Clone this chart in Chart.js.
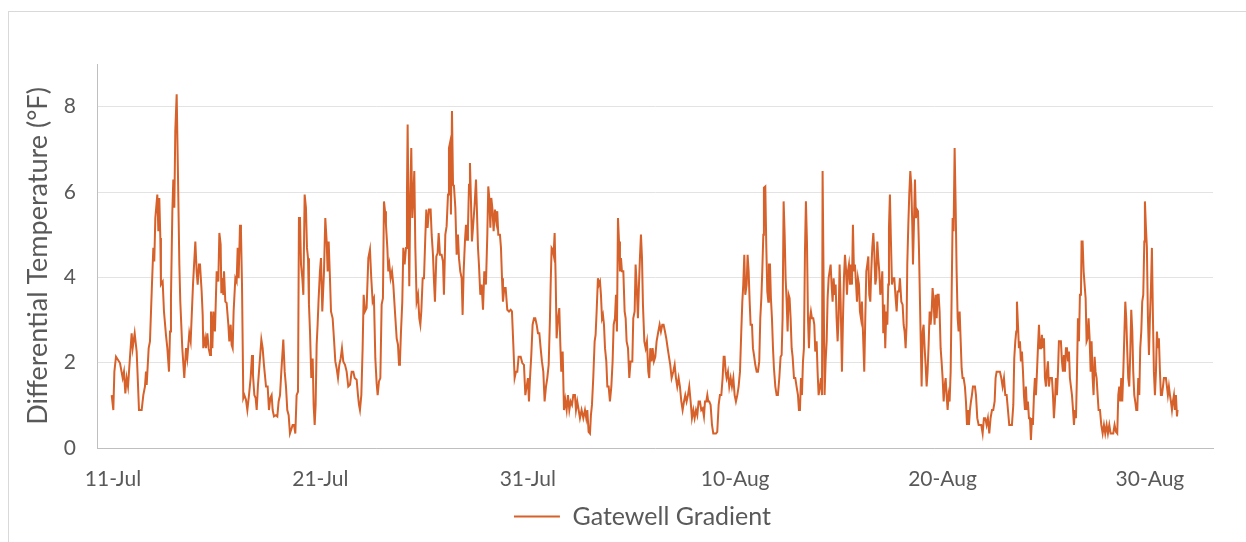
<!DOCTYPE html>
<html>
<head>
<meta charset="utf-8">
<title>Gatewell Gradient</title>
<script src="https://cdn.jsdelivr.net/npm/chart.js@4.4.1/dist/chart.umd.min.js"></script>
<style>
    html, body { margin: 0; padding: 0; background: #fff; overflow: hidden; }
    #frame { position: absolute; left: 8px; top: 11px; width: 1400px; height: 700px; border: 1px solid #d9d9d9; }
    #gradientChart { position: absolute; left: 0; top: 0; }
</style>
</head>
<body>
<div id="frame"></div>
<canvas id="gradientChart" width="1246" height="542"></canvas>
<script>
// hours since 11-Jul 00:00
var hours = [
    -1.5, 0.4, 1.6, 3.5, 8.1, 11.2, 12.7, 14.3, 15.8, 17.4, 19.7, 21.6, 22.8, 25.1, 27.4, 28.5, 30.1, 33.2, 35.1, 37.0,
    38.2, 39.0, 41.3, 42.8, 45.1, 46.7, 47.8, 49.0, 51.3, 52.5, 53.6, 54.8, 55.5, 57.5, 59.0, 61.3, 62.9, 64.8, 66.0, 67.1,
    68.7, 69.8, 71.0, 72.1, 73.7, 75.2, 76.8, 77.9, 80.2, 82.5, 84.5, 86.0, 88.3, 89.9, 92.6, 95.3, 96.8, 98.0, 99.5,
    100.7, 102.6, 103.8, 104.5, 106.5, 107.6, 109.2, 110.7, 112.3, 113.4, 115.0, 116.1, 118.0, 119.2, 120.0, 121.9, 123.1, 124.6, 125.4, 126.5,
    127.7, 128.5, 130.0, 131.5, 133.5, 134.6, 136.2, 137.3, 138.5, 139.6, 141.6, 143.1, 144.3, 145.4, 147.0, 148.1, 149.3, 150.8, 152.0, 153.9,
    155.5, 157.4, 159.3, 160.9, 162.0, 163.6, 165.1, 166.3, 167.8, 170.1, 171.7, 173.2, 174.7, 177.1, 179.0, 180.5, 182.1, 183.6, 184.8, 186.3,
    188.6, 190.2, 191.7, 193.3, 194.8, 197.1, 198.7, 200.2, 201.7, 203.3, 204.8, 207.9, 209.5, 211.0, 212.5, 214.1, 215.2,
    216.4, 217.6, 219.1, 220.3, 221.8, 223.3, 224.5, 225.7, 226.8, 228.0, 229.5, 231.1, 232.2, 233.4, 234.5, 235.7, 236.8, 238.0, 239.5, 240.7,
    242.2, 244.2, 245.7, 247.3, 248.4, 249.6, 251.1, 252.3, 254.2, 255.7, 257.3, 258.8, 260.4, 261.9, 263.5, 265.0, 266.5, 268.5, 270.4, 272.3,
    274.3, 276.2, 278.1, 279.7, 282.0, 283.5, 284.7, 285.8, 287.4, 288.9, 290.1, 291.6, 293.5, 295.5, 297.4, 298.9, 300.5, 302.0, 303.6, 305.1,
    306.3, 307.8, 309.4, 310.9, 312.4, 313.6, 314.8, 315.9, 317.5, 318.6, 319.8, 321.3, 322.9, 324.4, 326.3, 328.3, 329.8, 331.0,
    332.1, 333.3, 334.8, 336.0, 337.5, 339.1, 340.2, 341.0, 342.2, 342.9, 344.1, 345.2, 346.4, 347.6, 348.7, 349.9, 351.4, 353.0, 354.5, 355.7,
    356.8, 358.4, 359.9, 361.4, 362.6, 364.1, 365.7, 367.6, 368.8, 370.3, 371.5, 372.6, 374.2, 375.7, 376.9, 378.4, 380.3, 381.9, 383.0, 384.6,
    386.1, 387.7, 388.8, 390.4, 391.1, 392.3, 393.5, 394.6, 396.2, 397.7, 399.2, 400.4, 401.9, 403.5, 404.6, 405.8, 407.3, 408.5, 409.7, 410.8,
    412.0, 413.1, 414.3, 415.4, 416.6, 418.5, 420.1, 421.2, 422.4, 423.5, 425.1, 426.6, 428.2, 429.7, 431.6, 433.2, 434.3, 435.5, 436.7, 437.8,
    439.0, 440.5, 442.0, 443.6, 444.7, 445.9,
    447.8, 449.0, 450.2, 451.3, 452.9, 454.4, 456.3, 458.3, 460.2, 461.7, 463.3, 464.8, 466.4, 467.9, 469.4, 471.8, 473.7, 475.6, 477.2, 478.7,
    480.2, 481.4, 482.6, 484.1, 485.6, 487.2, 488.7, 490.3, 491.8, 493.4, 494.9, 496.4, 498.0, 499.5, 501.1, 502.6, 504.2, 505.7, 506.5, 507.6,
    508.8, 509.9, 511.1, 512.3, 513.4, 515.0, 516.5, 517.7, 518.8, 520.4, 521.9, 523.4, 525.0, 526.5, 528.1, 529.6, 531.2, 532.7, 534.6, 535.8,
    537.3, 538.9, 540.4, 542.3, 544.3, 546.2, 547.7, 548.9, 550.4, 552.0, 553.1, 554.3, 555.8, 557.4, 558.5, 559.7, 561.2, 562.4,
    563.6, 564.7, 565.9, 567.0, 568.2, 569.4, 570.9, 572.1, 573.6, 575.1, 576.7, 578.2, 579.4, 580.9, 582.1, 583.2, 584.4, 585.6, 586.7, 587.9,
    589.0, 590.6, 592.1, 593.3, 594.4, 596.0, 597.5, 599.0, 601.0, 602.1, 603.7, 604.8, 606.0, 607.5, 608.7, 609.8, 611.0, 612.2, 613.3, 614.9,
    616.4, 617.9, 619.5, 620.6, 621.8, 623.3, 624.5, 626.0, 627.6, 629.1, 631.1, 632.6, 634.1, 635.7, 637.2, 638.8, 640.3, 641.9, 643.4, 644.9,
    646.5, 648.4, 650.0, 651.5, 653.0, 654.6, 656.1, 657.7, 659.2, 660.8, 662.3, 663.8, 665.4, 666.9, 668.5, 670.0, 671.6, 673.1, 674.7, 676.2, 677.7,
    679.3, 680.8, 682.4, 683.9, 685.1, 686.6, 687.8, 688.9, 690.1, 691.6, 693.2, 694.7, 696.3, 697.8, 699.3, 700.9, 702.4, 704.0, 705.5, 706.7,
    707.8, 709.0, 710.1, 711.7, 713.2, 714.8, 716.3, 717.9, 719.4, 720.9, 722.5, 724.0, 725.6, 727.1, 728.3, 729.4, 730.6, 731.7, 733.3, 734.4,
    735.6, 736.8, 737.9, 739.5, 740.6, 741.8, 743.3, 744.9, 746.4, 747.9, 749.1, 750.3, 751.4, 752.6, 753.3, 754.9, 756.0, 757.2, 758.4, 759.1,
    760.3, 761.4, 762.6, 763.8, 764.9, 766.5, 768.0, 769.5, 771.1, 772.6, 773.8, 774.9, 776.1, 777.3, 778.4, 779.6, 780.7, 781.9, 783.0, 784.2,
    785.4, 786.5, 788.1, 789.6, 791.1, 792.7, 793.8,
    795.0, 796.2, 797.3, 798.5, 799.6, 800.8, 801.9, 803.1, 804.3, 805.4, 806.6, 807.7, 808.9, 810.4, 811.6, 812.7, 814.3, 815.4, 816.6, 818.1,
    819.3, 820.5, 821.2, 822.4, 823.5, 824.7, 825.9, 827.0, 828.2, 829.3, 830.5, 831.6, 832.8, 834.0, 835.1, 836.3, 837.4, 838.6, 839.7, 840.9,
    842.1, 843.6, 844.8, 845.9, 847.1, 848.2, 849.4, 850.5, 851.7, 852.9, 854.0, 855.2, 856.3, 857.5, 858.6, 859.8, 861.0, 862.1, 863.3, 864.4,
    865.6, 866.7, 867.9, 869.4, 870.6, 871.8, 872.9, 874.1, 875.2, 876.4, 877.5, 878.7, 879.9, 881.0, 882.2, 883.3, 884.5, 885.6, 886.8, 888.0,
    889.1, 890.3, 891.4, 892.6, 893.7, 894.9, 896.1, 897.2, 898.0, 899.1, 900.3, 901.5, 902.6, 904.2, 905.7, 906.9, 908.0, 909.6,
    910.7, 912.3, 913.8, 915.0, 916.1, 917.3, 918.4, 919.2, 920.4, 921.5, 922.7, 923.8, 925.0, 925.8, 926.9, 928.1, 929.2, 930.4, 931.6, 932.7,
    933.9, 935.0, 935.8, 937.0, 938.1, 939.3, 940.4, 941.6, 942.7, 943.9, 945.1, 946.2, 947.4, 948.5, 949.7, 950.8, 952.0, 953.2, 954.3, 955.5,
    956.6, 957.8, 958.9, 960.1, 961.3, 962.4, 963.6, 964.7, 965.9, 967.0, 968.2, 969.4, 970.5, 971.7, 972.8, 974.0, 975.1, 976.3, 977.5, 978.6,
    979.8, 980.9, 982.1, 983.2, 984.4, 985.9, 987.1, 988.3, 989.4, 990.6, 991.7, 992.9, 994.0, 995.2, 996.4, 997.5, 998.7, 1000.2, 1001.8, 1003.3,
    1004.8, 1006.4, 1007.9, 1009.5, 1011.0, 1012.5, 1014.1, 1015.6, 1017.2, 1018.7, 1020.3, 1021.4, 1022.6, 1024.5,
    1026.4, 1028.0, 1029.5, 1031.1, 1032.6, 1034.2, 1035.7, 1037.2, 1038.8, 1040.3, 1041.9, 1043.0, 1044.2, 1045.3, 1046.1, 1047.3, 1048.4, 1049.6, 1050.7, 1051.9,
    1053.1, 1054.2, 1055.4, 1056.5, 1057.7, 1058.8, 1060.0, 1061.2, 1062.3, 1063.5, 1064.6, 1065.8, 1066.9, 1068.1, 1069.3, 1070.4, 1071.6, 1072.7, 1073.9, 1075.0,
    1076.2, 1077.4, 1078.5, 1079.7, 1080.8, 1082.0, 1083.1, 1084.3, 1085.5, 1086.6, 1087.8, 1088.9, 1090.1, 1091.2, 1092.4, 1093.6, 1094.7, 1095.9, 1097.0, 1098.2,
    1099.3, 1100.5, 1101.7, 1102.8, 1104.0, 1105.1, 1106.3, 1107.4, 1108.6, 1109.8, 1110.9, 1112.1, 1113.2, 1114.4, 1115.5, 1116.7, 1117.9, 1119.0, 1120.2, 1120.9,
    1122.1, 1123.3, 1124.4, 1125.6, 1126.7, 1127.9, 1129.0, 1130.2, 1131.4, 1132.5, 1133.7, 1134.8, 1136.0, 1137.1, 1138.3, 1139.5, 1140.6,
    1142.2, 1143.7, 1145.3, 1146.8, 1148.3, 1149.9, 1151.4, 1153.0, 1154.5, 1156.1, 1157.6, 1159.1, 1160.7, 1162.2, 1163.4, 1164.5, 1165.7, 1166.8, 1168.0, 1169.2,
    1170.3, 1171.5, 1172.6, 1173.8, 1174.9, 1176.1, 1177.3, 1178.4, 1179.6, 1180.7, 1181.9, 1183.0, 1184.2, 1185.4, 1186.5, 1187.7, 1188.8, 1190.0, 1191.1, 1192.3,
    1193.5, 1194.2, 1195.4, 1196.5, 1197.7, 1198.9, 1200.0, 1201.2, 1202.3, 1203.5, 1204.6, 1205.8, 1207.0, 1208.1, 1209.3, 1210.4, 1211.6, 1212.7, 1213.9, 1215.1,
    1216.2, 1217.4, 1218.5, 1219.7, 1220.8, 1222.0, 1223.2, 1224.3, 1225.5, 1226.6, 1227.8, 1228.9, 1230.1, 1231.3, 1232.0
];

// Gatewell gradient, deg F
var gradient = [
    1.24, 0.89, 1.79, 2.14, 1.99, 1.64, 1.79, 1.28, 1.64, 1.44, 2.14, 2.69, 2.34, 2.69, 2.26, 1.71, 0.89, 0.89, 1.24, 1.44,
    1.79, 1.48, 2.34, 2.50, 3.83, 4.69, 4.37, 5.39, 5.94, 5.08, 5.86, 4.92, 3.83, 3.90, 3.20, 2.65, 2.34, 1.79, 2.73, 3.51,
    5.55, 6.29, 5.63, 7.43, 8.29, 6.41, 4.30, 3.43, 2.34, 1.64, 2.34, 2.10, 2.69, 2.50, 3.83, 4.84, 4.14, 3.83, 4.30,
    4.30, 3.67, 3.12, 2.34, 2.57, 2.34, 2.69, 2.34, 2.18, 3.20, 2.34, 3.20, 2.73, 3.59, 4.14, 3.90, 5.04, 4.77, 3.63, 3.98,
    3.59, 4.14, 3.43, 3.40, 2.89, 2.50, 2.89, 2.42, 2.34, 3.20, 3.98, 3.90, 4.69, 3.98, 5.23, 5.08, 3.83, 1.17, 1.24, 1.13,
    0.89, 1.24, 1.64, 2.18, 1.71, 1.24, 1.17, 0.89, 1.48, 2.10, 2.54, 2.34, 1.95, 1.44, 1.44, 0.89, 1.17, 1.24, 0.89, 0.74,
    0.77, 0.74, 1.09, 1.24, 1.79, 2.54, 1.79, 1.44, 0.89, 0.77, 0.34, 0.54, 0.54, 0.34, 1.24, 1.32, 5.39,
    5.39, 4.30, 3.98, 3.59, 5.94, 5.63, 4.69, 4.45, 3.36, 2.73, 1.64, 2.10, 1.01, 0.54, 1.01, 2.42, 2.89, 3.51, 4.14, 4.45,
    3.20, 4.14, 5.39, 4.84, 4.14, 4.84, 3.98, 3.20, 3.04, 2.57, 2.03, 1.87, 1.64, 1.95, 2.10, 2.34, 2.03, 1.95, 1.79, 1.44,
    1.48, 1.79, 1.79, 1.64, 1.60, 1.24, 1.01, 0.89, 1.24, 2.34, 3.59, 3.20, 3.28, 4.45, 4.65, 3.98, 3.43, 3.51, 2.10, 1.52,
    1.24, 1.56, 1.64, 3.36, 3.51, 5.78, 5.55, 5.23, 4.69, 4.14, 4.30, 3.98, 4.14, 3.83, 3.20, 2.57, 2.42, 1.95,
    2.03, 2.73, 3.43, 4.69, 4.30, 4.69, 5.94, 7.58, 5.00, 3.79, 5.94, 7.03, 5.39, 5.94, 6.49, 4.69, 3.43, 3.59, 3.04, 2.89,
    3.20, 3.98, 3.98, 4.92, 5.59, 5.16, 5.59, 5.59, 5.00, 4.53, 3.90, 3.43, 4.49, 4.57, 5.04, 4.53, 4.53, 4.37, 3.59, 5.00,
    5.20, 5.94, 7.03, 7.19, 5.47, 7.90, 6.17, 6.13, 5.63, 4.53, 5.00, 4.45, 4.14, 3.98, 3.12, 4.14, 4.84, 5.23, 4.88, 5.16,
    6.17, 6.68, 5.78, 4.84, 5.16, 5.70, 6.29, 5.55, 4.69, 4.30, 3.59, 3.83, 3.24, 4.14, 3.83, 5.00, 6.13, 5.86, 5.16, 5.86,
    5.63, 5.08, 5.59, 5.31, 5.55, 5.00,
    5.00, 4.69, 3.98, 3.43, 3.75, 3.75, 3.24, 3.20, 3.24, 3.20, 2.42, 1.64, 1.79, 1.79, 2.14, 2.14, 1.99, 1.95, 1.24, 1.44,
    1.64, 1.09, 1.64, 2.18, 2.89, 3.04, 3.04, 2.89, 2.69, 2.69, 2.34, 2.03, 1.79, 1.09, 1.44, 1.64, 1.95, 3.04, 3.83, 4.69,
    4.65, 4.53, 5.04, 3.98, 2.57, 3.04, 3.28, 2.42, 1.79, 2.26, 0.89, 1.13, 0.89, 1.24, 0.89, 1.09, 1.01, 1.24, 1.24, 0.89,
    1.09, 0.89, 0.70, 0.89, 0.70, 0.89, 0.70, 0.89, 0.38, 0.34, 0.77, 1.01, 1.64, 2.50, 2.65, 3.20, 3.98, 3.83,
    3.90, 3.59, 3.04, 3.12, 2.89, 2.34, 2.03, 1.44, 1.44, 1.09, 1.44, 2.03, 2.89, 3.04, 3.59, 2.73, 5.39, 4.84, 4.14, 4.45,
    4.14, 4.14, 3.20, 3.04, 2.50, 2.34, 1.64, 2.03, 2.03, 3.04, 3.20, 4.30, 3.83, 3.04, 3.83, 4.45, 5.00, 4.45, 3.36, 2.50,
    2.34, 2.50, 1.79, 1.64, 2.34, 2.03, 2.34, 2.03, 2.14, 2.50, 2.73, 2.89, 2.73, 2.89, 2.89, 2.73, 2.57, 2.34, 2.14, 1.95,
    1.64, 1.79, 1.95, 1.64, 1.44, 1.64, 1.44, 1.09, 0.89, 1.09, 1.24, 1.09, 1.24, 1.44, 1.09, 0.70, 0.89, 0.70, 0.89, 0.77, 1.09,
    1.09, 0.89, 0.93, 0.74, 1.09, 1.09, 1.24, 1.09, 1.09, 1.01, 0.54, 0.34, 0.34, 0.34, 0.38, 1.01, 1.24, 1.24, 1.64, 2.14,
    2.14, 1.79, 1.64, 1.79, 1.44, 1.64, 1.44, 1.64, 1.24, 1.09, 1.24, 1.44, 1.79, 2.73, 3.43, 3.83, 4.53, 3.59, 3.83, 4.53,
    4.14, 3.43, 2.89, 2.89, 2.34, 2.18, 1.95, 1.79, 1.79, 2.03, 3.04, 3.51, 4.14, 5.00, 6.10, 6.13, 4.77, 3.67, 3.43, 4.30,
    4.30, 3.51, 3.04, 2.34, 1.87, 1.44, 1.24, 1.24, 1.64, 2.14, 2.18, 3.04, 5.78, 5.00, 3.98, 3.43, 2.73, 3.59, 3.51, 3.04,
    2.34, 2.14, 1.64, 1.64, 1.44, 1.24, 0.89,
    0.89, 1.64, 1.24, 2.03, 2.34, 4.61, 5.78, 4.84, 3.04, 2.34, 3.04, 3.20, 3.04, 3.04, 2.89, 2.26, 2.50, 1.79, 1.24, 1.44,
    1.64, 1.24, 6.49, 3.83, 1.24, 2.03, 2.50, 3.51, 3.98, 4.14, 4.30, 3.83, 3.43, 3.98, 3.59, 3.83, 3.04, 2.50, 3.04, 4.30,
    3.43, 1.79, 3.04, 3.98, 4.53, 4.22, 3.59, 4.14, 4.30, 3.83, 4.30, 3.83, 5.23, 4.14, 4.30, 3.90, 3.43, 3.98, 3.83, 3.20,
    3.04, 3.43, 2.73, 1.79, 3.04, 4.14, 4.30, 4.49, 3.59, 3.43, 4.14, 4.69, 5.04, 4.61, 3.83, 3.98, 4.84, 4.45, 4.14, 3.59,
    3.75, 4.14, 2.69, 3.36, 2.34, 3.20, 2.89, 3.83, 5.16, 5.94, 4.84, 3.83, 3.98, 3.98, 3.51, 3.20, 3.67, 3.67,
    3.98, 3.43, 3.36, 2.89, 2.73, 2.34, 2.89, 4.30, 5.23, 5.94, 6.49, 6.17, 5.23, 4.30, 5.23, 6.29, 5.39, 5.59, 5.55, 4.69,
    3.43, 2.26, 1.44, 2.73, 2.89, 2.34, 1.95, 1.44, 1.79, 2.42, 3.20, 2.89, 3.20, 3.75, 3.43, 2.89, 3.59, 3.04, 3.59, 3.59,
    3.20, 2.34, 2.03, 1.64, 1.09, 1.44, 1.64, 1.24, 0.89, 1.24, 1.09, 1.79, 3.51, 5.39, 5.08, 7.03, 5.78, 4.14, 3.04, 2.73,
    3.20, 2.57, 1.87, 1.64, 1.64, 1.44, 1.09, 0.54, 0.89, 0.54, 0.89, 1.09, 1.24, 1.44, 1.44, 1.44, 1.24, 0.70, 0.54, 0.54,
    0.54, 0.34, 0.70, 0.70, 0.54, 0.70, 0.34, 0.70, 0.89, 0.89, 1.09, 1.64, 1.79, 1.79,
    1.79, 1.64, 1.44, 1.64, 1.24, 1.24, 0.89, 0.54, 0.54, 0.54, 1.01, 2.10, 2.50, 2.73, 3.43, 2.89, 2.34, 2.50, 2.03, 2.26,
    1.79, 1.24, 0.89, 1.44, 0.89, 1.09, 0.70, 0.70, 0.19, 0.70, 0.54, 1.24, 1.64, 1.24, 1.79, 2.34, 2.89, 2.34, 2.34, 2.65,
    2.34, 2.57, 1.64, 1.44, 1.79, 2.03, 1.44, 1.64, 1.64, 1.64, 1.24, 0.70, 1.09, 1.64, 1.24, 1.79, 2.50, 2.50, 2.50, 2.03,
    1.79, 2.18, 1.79, 2.34, 2.34, 2.03, 2.26, 1.64, 1.44, 1.24, 0.93, 0.54, 0.89, 0.70, 1.64, 3.04, 2.50, 3.59, 3.59, 4.84,
    4.84, 4.14, 3.83, 3.51, 2.50, 2.57, 3.04, 2.57, 1.79, 2.50, 1.64, 1.24, 2.14, 1.79, 1.64, 1.24, 0.89,
    0.89, 0.54, 0.34, 0.54, 0.34, 0.54, 0.34, 0.54, 0.34, 0.34, 0.34, 0.54, 0.38, 0.34, 1.24, 1.44, 1.09, 1.64, 1.09, 1.79,
    2.57, 3.43, 3.04, 2.26, 1.64, 1.44, 2.26, 3.24, 2.73, 1.79, 1.24, 1.09, 0.89, 0.89, 1.64, 1.24, 2.34, 2.73, 3.43, 3.59,
    4.84, 5.78, 5.16, 4.69, 3.04, 2.18, 3.04, 3.75, 4.69, 3.04, 1.79, 1.24, 1.79, 2.73, 2.34, 2.57, 1.79, 1.24, 1.24, 1.44,
    1.64, 1.64, 1.64, 1.44, 1.24, 1.44, 1.24, 1.09, 0.89, 1.09, 1.24, 0.89, 1.24, 0.74, 0.89
];

var xTickHours = [0, 240, 480, 720, 960, 1200];
var xTickLabels = ['11-Jul', '21-Jul', '31-Jul', '10-Aug', '20-Aug', '30-Aug'];
var yTicks = [0, 2, 4, 6, 8];

var points = hours.map(function (h, i) {
    return { x: h, y: gradient[i] };
});

var textColor = '#595959';
var fontFamily = 'Lato, "Liberation Sans", sans-serif';

// nudge the centred legend to where the original sits
var legendShift = {
    id: 'legendShift',
    afterLayout: function (chart) {
        chart.legend.left += 31;
        chart.legend.right += 31;
    }
};

new Chart(document.getElementById('gradientChart'), {
    type: 'line',
    data: {
        datasets: [{
            label: 'Gatewell Gradient',
            data: points,
            borderColor: '#d7612a',
            backgroundColor: '#d7612a',
            borderWidth: 2,
            pointRadius: 0,
            tension: 0,
            fill: false
        }]
    },
    plugins: [legendShift],
    options: {
        responsive: false,
        animation: false,
        layout: {
            padding: { left: 10, right: 33, top: 64, bottom: 3 }
        },
        plugins: {
            legend: {
                position: 'bottom',
                labels: {
                    color: textColor,
                    font: { family: fontFamily, size: 25 },
                    usePointStyle: true,
                    pointStyle: 'line',
                    pointStyleWidth: 46,
                    padding: 11
                }
            },
            tooltip: { enabled: false }
        },
        scales: {
            x: {
                type: 'linear',
                min: -18.5,
                max: 1273,
                afterBuildTicks: function (scale) {
                    scale.ticks = xTickHours.map(function (v) { return { value: v }; });
                },
                afterFit: function (scale) {
                    scale.height = 45;
                },
                ticks: {
                    color: textColor,
                    font: { family: fontFamily, size: 21 },
                    padding: 19,
                    maxRotation: 0,
                    callback: function (value, index) {
                        return xTickLabels[index];
                    }
                },
                grid: { display: false, drawTicks: false },
                border: { display: true, color: '#bfbfbf', width: 1 }
            },
            y: {
                min: 0,
                max: 9,
                afterBuildTicks: function (scale) {
                    scale.ticks = yTicks.map(function (v) { return { value: v }; });
                },
                afterFit: function (scale) {
                    scale.width = 87;
                },
                ticks: {
                    color: textColor,
                    font: { family: fontFamily, size: 21 },
                    padding: 21
                },
                grid: { color: '#e3e3e3', lineWidth: 1, drawTicks: false },
                border: { display: true, color: '#bfbfbf', width: 1 },
                title: {
                    display: true,
                    text: 'Differential Temperature (°F)',
                    color: textColor,
                    font: { family: fontFamily, size: 27 },
                    padding: { top: 12, bottom: 0 }
                }
            }
        }
    }
});
</script>
</body>
</html>
